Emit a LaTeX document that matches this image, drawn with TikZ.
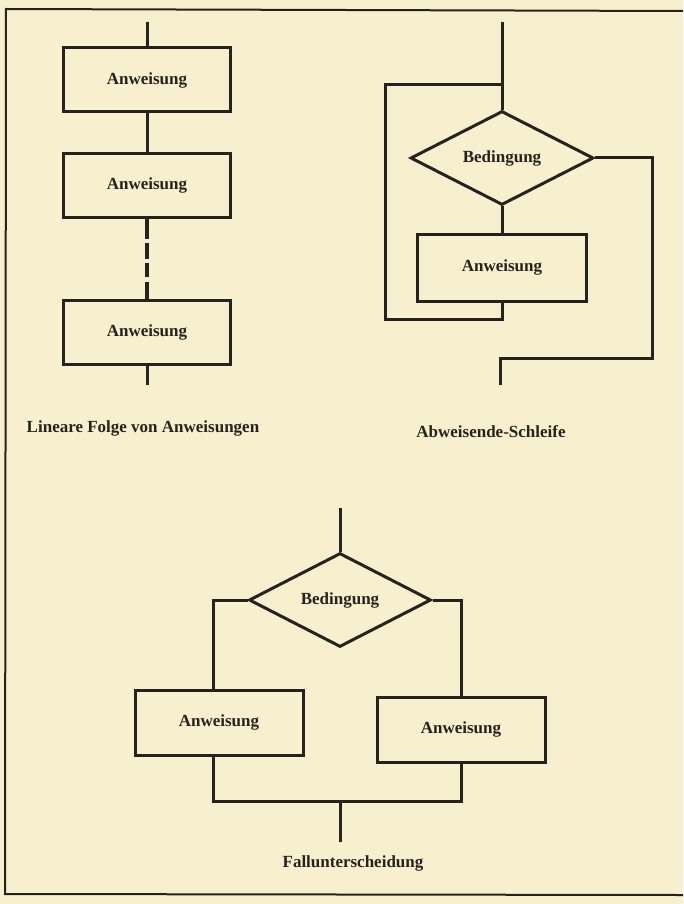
\documentclass[tikz,border=0pt]{standalone}
\usepackage{fontspec}
\setmainfont{Liberation Serif}
\usetikzlibrary{shapes.geometric}
\definecolor{paper}{RGB}{247,240,206}
\definecolor{ink}{RGB}{40,34,30}
\newcommand{\lbl}{\fontsize{17}{20}\selectfont\bfseries}
\tikzset{
  anw/.style={draw=ink, line width=3pt, rectangle, minimum width=167pt,
    minimum height=64pt, inner sep=0pt, font=\lbl, text=ink},
  bed/.style={draw=ink, line width=3pt, diamond, minimum width=183pt,
    minimum height=86pt, inner sep=0pt, font=\lbl, text=ink},
  flow/.style={draw=ink, line width=3pt},
  caption/.style={font=\lbl, text=ink}
}
\begin{document}
\begin{tikzpicture}[x=1pt, y=-1pt]
    \fill[paper] (0,0) rectangle (683,904);
    \useasboundingbox (0,0) rectangle (683,904);
    \draw[ink, line width=2pt] (683,11) -- (6,9) -- (5,894) -- (683,895);

    \coordinate (a0) at (147,22);
    \node[anw] (a1) at (147,80){Anweisung};
    \node[anw] (a2) at (147,185.5){Anweisung};
    \node[anw] (a3) at (147,332.5){Anweisung};
    \coordinate (a4) at (147,385);
    \draw[flow] (a0)--(a1.north);
    \draw[flow] (a1.south)--(a2.north);
    \draw[flow, line width=3.6pt,
      dash pattern=on 20pt off 4pt on 16pt off 4pt on 14pt off 5pt on 40pt]
      (a2.south)--(a3.north);
    \draw[flow] (a3.south)--(a4);
    \node[caption] (folge) at (143,428){Lineare Folge von Anweisungen};

    \coordinate (s0) at (502,22);
    \coordinate (sjoin) at (502,85);
    \node[bed] (sbed) at (502,158){Bedingung};
    \node[anw, minimum width=169pt, minimum height=67pt] (sanw) at (502,267.5){Anweisung};
    \coordinate (sback) at (385,319);
    \coordinate (sturn) at (652,358);
    \coordinate (s1) at (500,385);
    \draw[flow] (s0)--(sbed.north);
    \draw[flow] (sbed.south)--(sanw.north);
    \draw[flow] (sanw.south) |- (sback) |- (sjoin);
    \draw[flow] (sbed.east) -| (sturn) -| (s1);
    \node[caption] (schleife) at (491,432){Abweisende-Schleife};

    \coordinate (f0) at (340,508);
    \node[bed, minimum width=182pt, minimum height=89pt] (fbed) at (340,600){Bedingung};
    \node[anw, minimum width=168pt, minimum height=65pt] (fl) at (219,722.5){Anweisung};
    \node[anw, minimum width=168pt, minimum height=65pt] (fr) at (461,729.5){Anweisung};
    \coordinate (fjoin) at (340,801);
    \coordinate (f1) at (340,842);
    \draw[flow] (f0)--(fbed.north);
    \draw[flow] (fbed.west) -| ([xshift=-6pt]fl.north);
    \draw[flow] (fbed.east) -| (fr.north);
    \draw[flow] ([xshift=-6pt]fl.south) |- (fr.south |- fjoin) -- (fr.south);
    \draw[flow] (fjoin)--(f1);
    \node[caption] (fall) at (353,863){Fallunterscheidung};
  \end{tikzpicture}
\end{document}
